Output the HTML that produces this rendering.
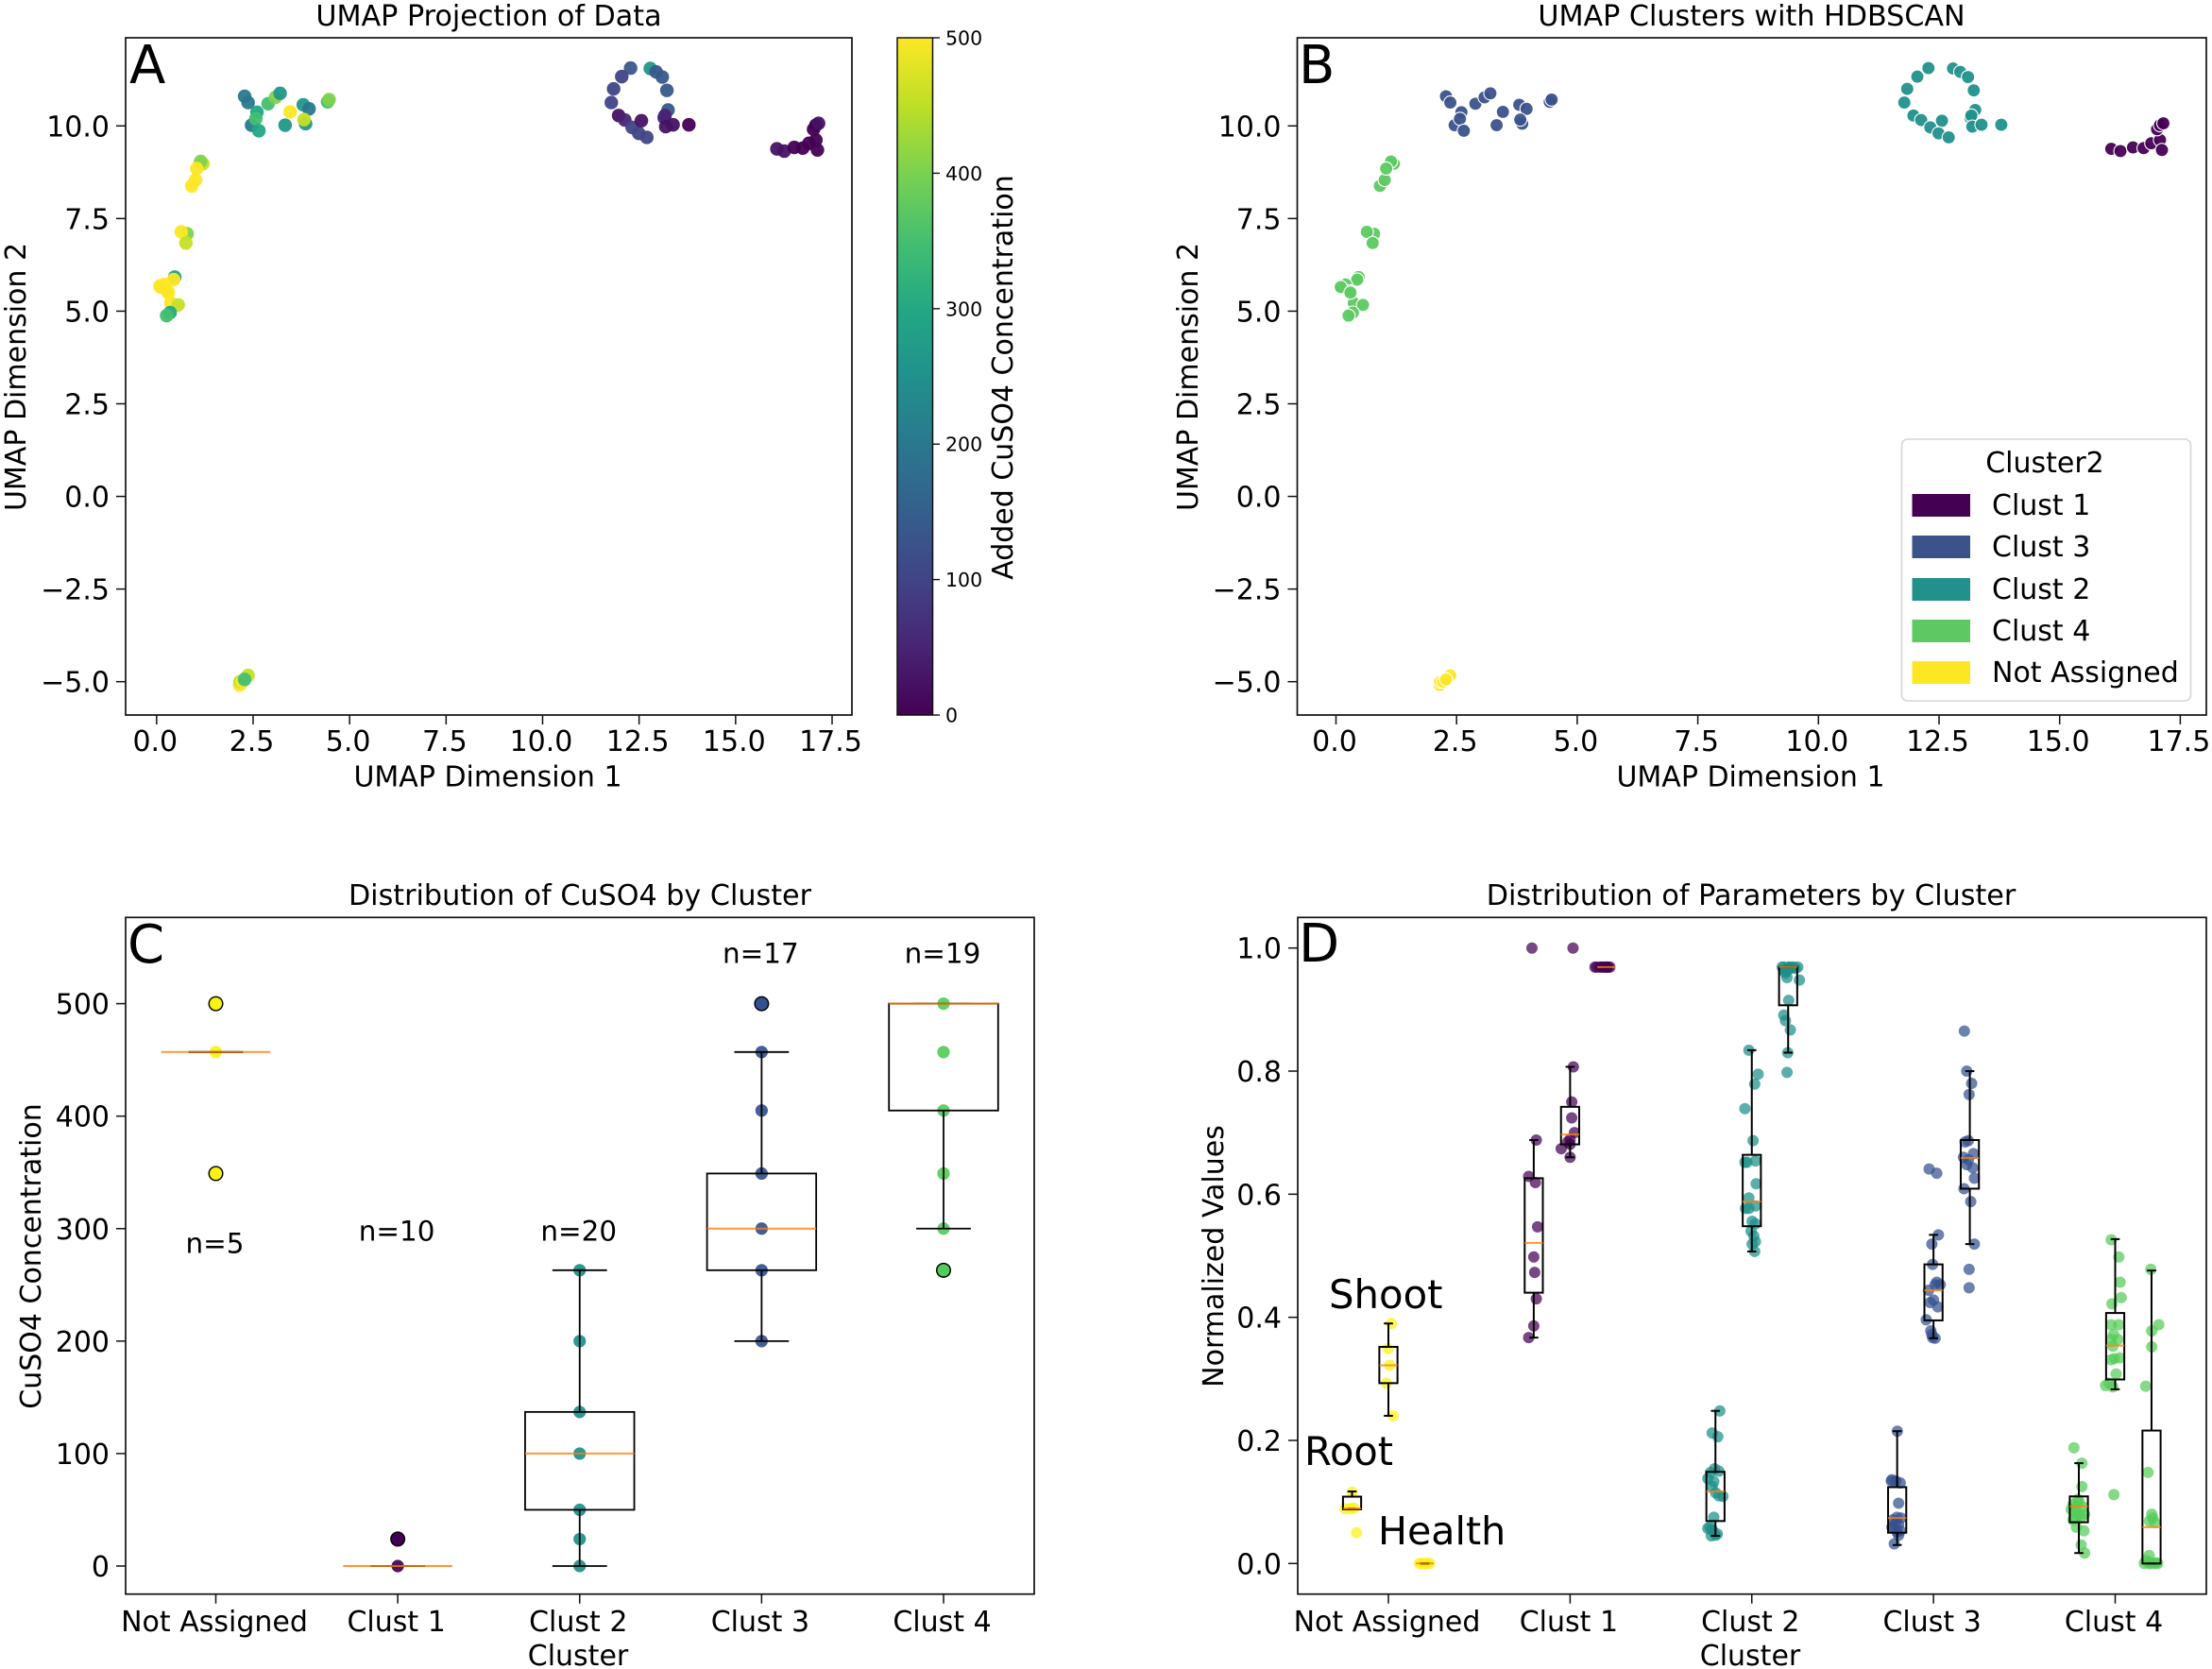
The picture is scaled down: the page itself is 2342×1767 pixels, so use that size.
<!DOCTYPE html>
<html lang="en">
<head>
<meta charset="utf-8">
<title>UMAP clusters figure</title>
<style>
html,body{margin:0;padding:0;background:#fff;}
svg{display:block;font-family:"DejaVu Sans","Liberation Sans",sans-serif;fill:#000;}
</style>
</head>
<body>
<svg id="fig" xmlns="http://www.w3.org/2000/svg" width="2342" height="1767" viewBox="0 0 2342 1767">
<defs><linearGradient id="viridis-gradient" x1="0" y1="1" x2="0" y2="0"></linearGradient></defs>
<rect x="0" y="0" width="2342" height="1767" fill="#fff"/>
<g id="panelA"></g>
<g id="panelB"></g>
<g id="panelC"></g>
<g id="panelD"></g>
<g id="labels" font-size="30">
<text x="517.5" y="27" text-anchor="middle" font-size="30.2">UMAP Projection of Data</text>
<text x="516.5" y="832.5" text-anchor="middle">UMAP Dimension 1</text>
<text transform="translate(27,399) rotate(-90)" text-anchor="middle">UMAP Dimension 2</text>
<text transform="translate(1072,399.5) rotate(-90)" text-anchor="middle">Added CuSO4 Concentration</text>
<text x="1854.5" y="27" text-anchor="middle" font-size="30.2">UMAP Clusters with HDBSCAN</text>
<text x="1853.5" y="832.5" text-anchor="middle">UMAP Dimension 1</text>
<text transform="translate(1268,399) rotate(-90)" text-anchor="middle">UMAP Dimension 2</text>
<text x="614" y="958" text-anchor="middle" font-size="30.2">Distribution of CuSO4 by Cluster</text>
<text x="612" y="1763" text-anchor="middle">Cluster</text>
<text transform="translate(43,1330) rotate(-90)" text-anchor="middle">CuSO4 Concentration</text>
<text x="1854" y="958" text-anchor="middle" font-size="30.2">Distribution of Parameters by Cluster</text>
<text x="1853" y="1763" text-anchor="middle">Cluster</text>
<text transform="translate(1295,1330) rotate(-90)" text-anchor="middle">Normalized Values</text>
<text x="137" y="88" font-size="56">A</text>
<text x="1375" y="88" font-size="56">B</text>
<text x="135" y="1019" font-size="56">C</text>
<text x="1375" y="1018" font-size="56">D</text>
<text x="1407" y="1385" font-size="41.8">Shoot</text>
<text x="1381" y="1551" font-size="41.5">Root</text>
<text x="1459" y="1635" font-size="41.2">Health</text>
</g>
</svg>
<script>
/* ---------- UMAP data ---------- */
const naUmapX=[2.15,2.37,2.16,2.22,2.28];
const naUmapY=[-5.09,-4.83,-5.0,-5.0,-4.94];
const naConc=[500,457,457,500,349];
const c1UmapX=[16.07,16.26,16.52,16.74,16.90,17.08,17.12,17.02,17.08,17.15];
const c1UmapY=[9.38,9.32,9.42,9.40,9.53,9.62,9.35,9.91,10.02,10.07];
const c1Conc=[24,24,0,0,0,0,0,0,0,24];
const c2UmapX=[12.28,12.05,11.84,11.78,11.97,12.13,12.32,12.49,12.70,12.56,12.79,12.94,13.10,13.22,13.25,13.15,13.17,13.19,13.38,13.79];
const c2UmapY=[11.56,11.33,11.00,10.63,10.28,10.16,9.96,9.80,9.69,10.14,11.55,11.46,11.32,10.96,10.43,10.22,10.28,9.98,10.03,10.03];
const c2Conc=[137,100,100,100,24,50,100,100,100,24,263,137,137,137,137,50,50,24,24,0];
const c3UmapX=[2.28,2.37,2.46,2.60,2.57,2.65,2.89,3.08,3.20,3.46,3.33,3.80,3.95,3.86,3.82,4.43,4.47];
const c3UmapY=[10.80,10.63,10.02,10.37,10.19,9.87,10.60,10.77,10.88,10.38,10.02,10.57,10.46,10.06,10.17,10.65,10.71];
const c3Conc=[200,200,200,300,349,300,349,405,263,500,263,263,200,263,457,349,405];
const c4UmapX=[0.47,0.44,0.09,0.20,0.28,0.37,0.56,0.35,0.26,0.79,0.64,0.76,0.91,1.01,1.20,1.14,1.04,0.10,0.30];
const c4UmapY=[5.92,5.85,5.68,5.72,5.54,5.22,5.17,4.96,4.88,7.09,7.14,6.84,8.38,8.54,8.98,9.04,8.85,5.65,5.50];
const c4Conc=[300,500,500,500,500,500,457,300,349,405,500,457,500,500,457,405,500,500,500];

/* ---------- Axis ticks ---------- */
const umapXTicks=[0,2.5,5,7.5,10,12.5,15,17.5];
const umapYTicks=[-5,-2.5,0,2.5,5,7.5,10];
const colorbarTicks=[0,100,200,300,400,500];
const concTicks=[0,100,200,300,400,500];
const normTicks=[0,0.2,0.4,0.6,0.8,1.0];
const clusterCategories=["Not Assigned","Clust 1","Clust 2","Clust 3","Clust 4"];
const legendLabels=["Clust 1","Clust 3","Clust 2","Clust 4","Not Assigned"];

/* ---------- Panel C data ---------- */
const cWhiskLow=[457,0,0,200,300];
const cQ1=[457,0,50,263,405];
const cMedian=[457,0,100,300,500];
const cQ3=[457,0,137,349,500];
const cWhiskHigh=[457,0,263,457,500];
const cFliers=[[349,500],[24],[],[500],[263]];
const cPoints=[[500,457,349],[0,24],[0,24,50,100,137,200,263],[200,263,300,349,405,457,500],[263,300,349,405,457,500]];
const cCounts=[5,10,20,17,19];
const cCountLevel=[287,298,298,545,545];

/* ---------- Panel D data: Root / Shoot / Health per cluster ---------- */
const dWhiskLow=[0.089,0.24,0, 0.367,0.66,0.969, 0.045,0.507,0.83, 0.03,0.366,0.519, 0.017,0.283,0];
const dQ1=[0.088,0.293,0, 0.44,0.681,0.969, 0.069,0.548,0.907, 0.05,0.395,0.609, 0.067,0.299,0];
const dMedian=[0.089,0.322,0, 0.521,0.697,0.969, 0.117,0.588,0.969, 0.074,0.444,0.659, 0.093,0.354,0.059];
const dQ3=[0.1086,0.352,0, 0.626,0.742,0.969, 0.149,0.664,0.969, 0.124,0.486,0.688, 0.109,0.407,0.216];
const dWhiskHigh=[0.117,0.39,0, 0.688,0.807,0.969, 0.248,0.834,0.969, 0.215,0.534,0.80, 0.163,0.527,0.476];

const naRootX=[-0.199,-0.21,-0.239,-0.19,-0.175];
const naRootY=[0.116,0.089,0.089,0.09,0.05];
const naShootX=[0.016,-0.002,0.007,-0.011,0.026];
const naShootY=[0.39,0.349,0.322,0.293,0.24];
const naHealthX=[0.171,0.199,0.226,0.186,0.211];
const naHealthY=[0,0,0,0,0];

const c1RootX=[-0.186,-0.228,-0.191,-0.179,-0.2,-0.195,-0.186,-0.2,-0.228,-0.21];
const c1RootY=[0.688,0.629,0.619,0.547,0.498,0.473,0.43,0.386,0.367,1.0];
const c1ShootX=[0.018,0.009,0.009,0.024,0,-0.013,-0.049,0,0,0.016];
const c1ShootY=[0.807,0.75,0.724,0.70,0.689,0.685,0.674,0.681,0.66,1.0];
const c1HealthX=[0.137,0.164,0.182,0.2,0.21,0.219,0.191,0.173,0.146,0.205];
const c1HealthY=[0.969,0.969,0.969,0.969,0.969,0.969,0.969,0.969,0.969,0.969];

const c2RootX=[-0.176,-0.218,-0.187,-0.205,-0.181,-0.227,-0.242,-0.209,-0.218,-0.199,-0.159,-0.181,-0.231,-0.218,-0.242,-0.199,-0.223,-0.19,-0.218,-0.209];
const c2RootY=[0.248,0.212,0.206,0.154,0.15,0.148,0.138,0.133,0.125,0.115,0.109,0.11,0.059,0.055,0.057,0.046,0.045,0.048,0.054,0.075];
const c2ShootX=[-0.016,0.035,0.016,-0.038,0.007,-0.026,0.02,-0.038,0.024,-0.016,0.02,-0.035,0.002,0.02,-0.004,0.011,0.02,0.002,0.016,-0.016];
const c2ShootY=[0.834,0.795,0.779,0.739,0.687,0.652,0.654,0.652,0.617,0.594,0.581,0.577,0.556,0.552,0.54,0.532,0.523,0.519,0.507,0.577];
const c2HealthX=[0.176,0.203,0.231,0.253,0.194,0.212,0.185,0.194,0.262,0.203,0.176,0.185,0.212,0.198,0.194,0.221,0.167,0.24,0.181,0.209];
const c2HealthY=[0.969,0.969,0.969,0.969,0.963,0.967,0.959,0.952,0.948,0.915,0.891,0.882,0.867,0.83,0.798,0.969,0.969,0.967,0.963,0.969];

const c3RootX=[-0.199,-0.229,-0.207,-0.183,-0.192,-0.201,-0.179,-0.223,-0.21,-0.192,-0.229,-0.183,-0.201,-0.216,-0.192,-0.22,-0.232];
const c3RootY=[0.215,0.136,0.134,0.131,0.098,0.075,0.074,0.071,0.065,0.063,0.059,0.053,0.051,0.032,0.046,0.059,0.134];
const c3ShootX=[-0.024,0.018,0.027,-0.009,-0.005,0.018,0.009,0.037,-0.027,0,-0.018,0.024,-0.04,-0.015,-0.005,0.009,-0.009];
const c3ShootY=[0.641,0.634,0.534,0.519,0.486,0.457,0.453,0.453,0.444,0.428,0.424,0.417,0.396,0.378,0.367,0.366,0.372];
const c3HealthX=[0.17,0.183,0.21,0.196,0.174,0.192,0.22,0.192,0.165,0.216,0.225,0.168,0.205,0.225,0.196,0.196,0.183];
const c3HealthY=[0.865,0.80,0.78,0.762,0.685,0.687,0.666,0.656,0.66,0.643,0.626,0.609,0.588,0.519,0.478,0.448,0.648];

const c4RootX=[-0.227,-0.183,-0.183,-0.205,-0.232,-0.177,-0.223,-0.196,-0.214,-0.187,-0.242,-0.214,-0.172,-0.187,-0.168,-0.199,-0.218,-0.168,-0.232];
const c4RootY=[0.188,0.163,0.125,0.104,0.096,0.092,0.084,0.08,0.074,0.075,0.088,0.059,0.053,0.03,0.017,0.10,0.092,0.08,0.071];
const c4ShootX=[-0.022,0.02,0.027,0.033,-0.018,-0.022,0.02,-0.009,-0.022,0.015,-0.013,0.024,-0.004,-0.022,0.005,-0.035,-0.013,-0.053,-0.007];
const c4ShootY=[0.526,0.498,0.457,0.432,0.422,0.388,0.388,0.372,0.364,0.364,0.353,0.334,0.333,0.331,0.308,0.293,0.287,0.289,0.112];
const c4HealthX=[0.196,0.24,0.201,0.201,0.168,0.181,0.201,0.207,0.188,0.216,0.187,0.16,0.187,0.196,0.216,0.234,0.188,0.17,0.225];
const c4HealthY=[0.478,0.388,0.378,0.352,0.288,0.148,0.08,0.074,0.069,0.067,0.013,0,0,0,0,0,0.002,0.005,0.001];

/* ---------- Colours ---------- */
const viridisStops=["#440154","#482475","#414487","#355f8d","#2a788e","#21918c","#22a884","#44bf70","#7ad151","#bddf26","#fde725"];
const clusterColors={"Not Assigned":"#fde725","Clust 1":"#440154","Clust 2":"#21918c","Clust 3":"#3b528b","Clust 4":"#5ec962"};
const stripColors={"Not Assigned":"#fbf212","Clust 1":"#440154","Clust 2":"#1c8f88","Clust 3":"#34508f","Clust 4":"#55cc58"};

const NS="http://www.w3.org/2000/svg";
function linear(d0,d1,r0,r1){return v=>r0+(v-d0)*(r1-r0)/(d1-d0);}
function add(parent,tag,attrs,name){
  const el=document.createElementNS(NS,tag);
  for(const k in attrs){el.setAttribute(k,attrs[k]);}
  
  
  parent.appendChild(el);
  return el;
}
function label(parent,x,y,str,size,anchor,name){
  const el=add(parent,'text',{x:x,y:y,'font-size':size,'text-anchor':anchor},name);
  el.textContent=str;
  return el;
}
function fmt(v,d){return (v<0?"\u2212":"")+Math.abs(v).toFixed(d);}
function hexToRgb(h){return [parseInt(h.slice(1,3),16),parseInt(h.slice(3,5),16),parseInt(h.slice(5,7),16)];}
function viridis(t){
  const p=Math.max(0,Math.min(1,t))*(viridisStops.length-1);
  const i=Math.min(Math.floor(p),viridisStops.length-2);
  const f=p-i;
  const a=hexToRgb(viridisStops[i]),b=hexToRgb(viridisStops[i+1]);
  return "rgb("+a.map((c,k)=>Math.round(c+(b[k]-c)*f)).join(",")+")";
}
function frame(g,l,t,r,b,name){
  add(g,'rect',{x:l,y:t,width:r-l,height:b-t,fill:'none',stroke:'#111','stroke-width':1.7},name);
}
function xTicks(g,scale,ticks,bottom,texts,baseline,prefix){
  ticks.forEach((v,i)=>{
    const x=scale(v);
    add(g,'line',{x1:x,x2:x,y1:bottom,y2:bottom+10,stroke:'#111','stroke-width':1.5},prefix+'-x-tick');
    label(g,x-1.5,baseline,texts[i],30,'middle',prefix+'-x-tick-label');
  });
}
function yTicks(g,scale,ticks,left,decimals,prefix){
  ticks.forEach(v=>{
    const y=scale(v);
    add(g,'line',{x1:left-10,x2:left,y1:y,y2:y,stroke:'#111','stroke-width':1.5},prefix+'-y-tick');
    label(g,left-17,y+11,fmt(v,decimals),30,'end',prefix+'-y-tick-label');
  });
}
function boxPlot(g,xs,ys,xc,width,lo,q1,med,q3,hi,lw,prefix){
  const x=xs(xc),hw=(xs(xc+width/2)-x),cw=hw/2;
  add(g,'line',{x1:x,x2:x,y1:ys(q3),y2:ys(hi),stroke:'#000','stroke-width':lw},prefix+'-upper-whisker');
  add(g,'line',{x1:x,x2:x,y1:ys(q1),y2:ys(lo),stroke:'#000','stroke-width':lw},prefix+'-lower-whisker');
  add(g,'line',{x1:x-cw,x2:x+cw,y1:ys(hi),y2:ys(hi),stroke:'#000','stroke-width':lw},prefix+'-upper-cap');
  add(g,'line',{x1:x-cw,x2:x+cw,y1:ys(lo),y2:ys(lo),stroke:'#000','stroke-width':lw},prefix+'-lower-cap');
  add(g,'rect',{x:x-hw,y:ys(q3),width:2*hw,height:Math.max(0,ys(q1)-ys(q3)),fill:'none',stroke:'#000','stroke-width':lw},prefix+'-box');
  add(g,'line',{x1:x-hw,x2:x+hw,y1:ys(med),y2:ys(med),stroke:'#ff7f0e','stroke-width':2,'stroke-opacity':0.82},prefix+'-median');
}

const umapGroups=[
  {label:"Clust 1",x:c1UmapX,y:c1UmapY,c:c1Conc},
  {label:"Clust 2",x:c2UmapX,y:c2UmapY,c:c2Conc},
  {label:"Clust 3",x:c3UmapX,y:c3UmapY,c:c3Conc},
  {label:"Clust 4",x:c4UmapX,y:c4UmapY,c:c4Conc},
  {label:"Not Assigned",x:naUmapX,y:naUmapY,c:naConc}
];
const umapY=linear(-5,10,721.7,133.3);

/* ---------- Panel A ---------- */
const gA=document.getElementById('panelA');
const xA=linear(0,17.5,165.8,881);
umapGroups.forEach(gr=>{
  gr.x.forEach((v,i)=>{
    add(gA,'circle',{cx:xA(v),cy:umapY(gr.y[i]),r:7.2,fill:viridis(gr.c[i]/500),'fill-opacity':0.95},'umap-point-concentration');
  });
});
frame(gA,133,40,902,757,'panel-a-frame');
xTicks(gA,xA,umapXTicks,757,umapXTicks.map(v=>fmt(v,1)),795,'panel-a');
yTicks(gA,umapY,umapYTicks,133,1,'panel-a');

/* colorbar */
const grad=document.getElementById('viridis-gradient');
viridisStops.forEach((c,i)=>{
  const s=document.createElementNS(NS,'stop');
  s.setAttribute('offset',(i/(viridisStops.length-1)));
  s.setAttribute('stop-color',c);
  grad.appendChild(s);
});
const cbY=linear(0,500,757,40);
add(gA,'rect',{x:950,y:40,width:37.5,height:717,fill:'url(#viridis-gradient)',stroke:'#111','stroke-width':1.5},'colorbar');
colorbarTicks.forEach(v=>{
  add(gA,'line',{x1:987.5,x2:995,y1:cbY(v),y2:cbY(v),stroke:'#111','stroke-width':1.4},'colorbar-tick');
  label(gA,1001,cbY(v)+7.5,String(v),20.5,'start','colorbar-tick-label');
});

/* ---------- Panel B ---------- */
const gB=document.getElementById('panelB');
const xB=linear(0,17.5,1414.5,2308.4);
umapGroups.forEach(gr=>{
  gr.x.forEach((v,i)=>{
    add(gB,'circle',{cx:xB(v),cy:umapY(gr.y[i]),r:7,fill:clusterColors[gr.label],'fill-opacity':0.95,stroke:'#fff','stroke-width':1.1},'umap-point-cluster');
  });
});
frame(gB,1373.5,40,2336,757,'panel-b-frame');
xTicks(gB,xB,umapXTicks,757,umapXTicks.map(v=>fmt(v,1)),795,'panel-b');
yTicks(gB,umapY,umapYTicks,1373.5,1,'panel-b');
add(gB,'rect',{x:2013.5,y:465,width:306,height:277,rx:6,ry:6,fill:'#fff','fill-opacity':0.8,stroke:'#d6d6d6','stroke-width':1.6},'legend-box');
label(gB,2165,500,'Cluster2',30,'middle','legend-title');
const legendRowBaseline=[545,589,634,678,722];
legendLabels.forEach((t,i)=>{
  const b=legendRowBaseline[i];
  add(gB,'rect',{x:2024.5,y:b-22,width:61.5,height:24,fill:clusterColors[t]},'legend-swatch');
  label(gB,2109,b,t,30,'start','legend-label');
});

/* ---------- Panel C ---------- */
const gC=document.getElementById('panelC');
const xC=linear(0,4,228.5,999);
const yC=linear(0,500,1658,1062.6);
clusterCategories.forEach((name,i)=>{
  cFliers[i].forEach(v=>{
    add(gC,'circle',{cx:xC(i),cy:yC(v),r:7,fill:stripColors[name],stroke:'#000','stroke-width':2},'concentration-flier');
  });
  cPoints[i].forEach(v=>{
    add(gC,'circle',{cx:xC(i),cy:yC(v),r:6.6,fill:stripColors[name],'fill-opacity':0.92},'concentration-point');
  });
  boxPlot(gC,xC,yC,i,0.6,cWhiskLow[i],cQ1[i],cMedian[i],cQ3[i],cWhiskHigh[i],1.8,'concentration-'+i);
  label(gC,xC(i)-1,yC(cCountLevel[i])+10.5,'n='+cCounts[i],29.4,'middle','sample-count-label');
});
frame(gC,133,971.3,1095,1687.7,'panel-c-frame');
xTicks(gC,xC,[0,1,2,3,4],1687.7,clusterCategories,1727,'panel-c');
yTicks(gC,yC,concTicks,133,0,'panel-c');

/* ---------- Panel D ---------- */
const gD=document.getElementById('panelD');
const xD=linear(0,4,1470,2239.5);
const yD=linear(0,1,1655.3,1003.7);
const dOffsets=[-0.2,0,0.2];
const dSeries=[
  [[naRootX,naRootY],[naShootX,naShootY],[naHealthX,naHealthY]],
  [[c1RootX,c1RootY],[c1ShootX,c1ShootY],[c1HealthX,c1HealthY]],
  [[c2RootX,c2RootY],[c2ShootX,c2ShootY],[c2HealthX,c2HealthY]],
  [[c3RootX,c3RootY],[c3ShootX,c3ShootY],[c3HealthX,c3HealthY]],
  [[c4RootX,c4RootY],[c4ShootX,c4ShootY],[c4HealthX,c4HealthY]]
];
clusterCategories.forEach((name,i)=>{
  dOffsets.forEach((off,j)=>{
    const k=i*3+j;
    const pts=dSeries[i][j];
    pts[0].forEach((px,n)=>{
      add(gD,'circle',{cx:xD(i+px),cy:yD(pts[1][n]),r:6,fill:stripColors[name],'fill-opacity':0.72},'parameter-point');
    });
    boxPlot(gD,xD,yD,i+off,0.1,dWhiskLow[k],dQ1[k],dMedian[k],dQ3[k],dWhiskHigh[k],2,'parameter-'+k);
  });
});
frame(gD,1374,971.3,2336,1687.7,'panel-d-frame');
xTicks(gD,xD,[0,1,2,3,4],1687.7,clusterCategories,1727,'panel-d');
yTicks(gD,yD,normTicks,1374,1,'panel-d');
</script>
</body>
</html>
